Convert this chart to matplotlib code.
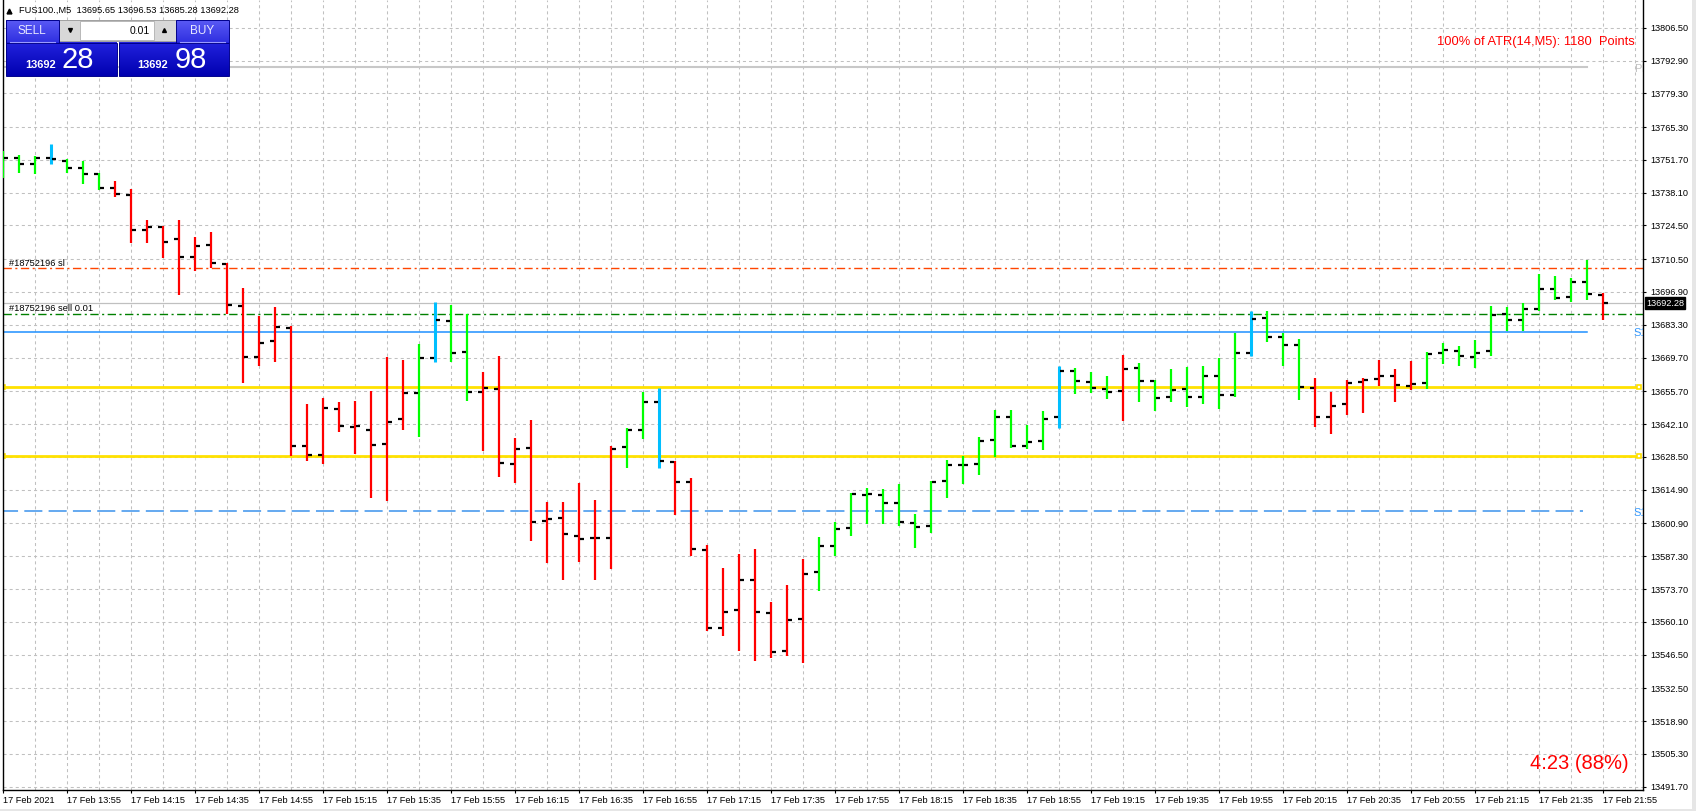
import numpy as np
import matplotlib
matplotlib.use("Agg")
import matplotlib.pyplot as plt
from matplotlib.patches import Rectangle
from matplotlib.transforms import blended_transform_factory

plt.rcParams['font.family'] = ['Liberation Sans', 'DejaVu Sans']
plt.rcParams['lines.scale_dashes'] = False

# ---------- data (FUS100., M5) ----------
opens = [13747.50, 13752.61, 13750.12, 13752.61, 13751.36, 13748.32, 13745.97, 13740.03, 13737.26, 13722.75,
         13723.99, 13719.01, 13711.55, 13716.51, 13708.51, 13691.22, 13669.93, 13676.71, 13681.96, 13633.02,
         13629.29, 13648.37, 13640.90, 13639.66, 13633.85, 13644.22, 13655.00, 13669.52, 13684.86, 13672.01,
         13655.42, 13656.66, 13625.55, 13632.19, 13601.91, 13603.16, 13595.69, 13594.86, 13594.86, 13632.60,
         13639.65, 13651.27, 13626.38, 13618.09, 13589.88, 13557.53, 13565.00, 13577.44, 13563.75, 13547.99,
         13561.27, 13580.76, 13591.55, 13599.01, 13612.70, 13612.70, 13609.38, 13601.08, 13599.84, 13618.50,
         13625.14, 13625.56, 13635.51, 13645.05, 13633.02, 13635.09, 13645.05, 13664.13, 13659.56, 13656.66,
         13655.83, 13665.37, 13659.98, 13653.34, 13656.66, 13653.34, 13662.05, 13654.17, 13671.59, 13686.11,
         13678.23, 13674.91, 13657.08, 13645.05, 13650.44, 13659.56, 13660.81, 13662.05, 13658.04, 13659.29,
         13671.73, 13672.56, 13670.07, 13672.56, 13687.91, 13685.42, 13689.98, 13698.28, 13694.96, 13701.18,
         13695.65]
highs = [13755.37, 13753.71, 13753.30, 13758.28, 13752.19, 13751.22, 13746.39, 13742.93, 13739.61, 13726.62,
         13724.27, 13726.89, 13719.70, 13721.78, 13708.92, 13698.41, 13686.94, 13690.67, 13682.65, 13650.44,
         13652.93, 13651.27, 13651.68, 13655.83, 13669.93, 13668.69, 13675.32, 13692.60, 13691.50, 13687.77,
         13663.71, 13670.35, 13636.34, 13643.80, 13609.79, 13609.79, 13617.67, 13610.62, 13633.02, 13640.48,
         13655.41, 13657.07, 13626.79, 13619.75, 13591.96, 13582.42, 13588.22, 13590.30, 13568.32, 13575.37,
         13586.15, 13595.28, 13601.50, 13613.53, 13615.60, 13615.19, 13617.26, 13604.82, 13618.50, 13627.22,
         13628.87, 13636.75, 13647.95, 13647.95, 13641.73, 13647.54, 13666.20, 13665.37, 13663.71, 13662.05,
         13670.76, 13667.44, 13660.39, 13664.96, 13665.79, 13666.20, 13669.52, 13679.89, 13689.01, 13689.01,
         13679.89, 13677.40, 13661.22, 13655.42, 13660.39, 13661.22, 13668.69, 13664.96, 13668.41, 13672.15,
         13675.88, 13674.63, 13677.12, 13691.23, 13690.81, 13692.47, 13704.50, 13703.67, 13702.84, 13710.30,
         13696.53]
lows = [13744.04, 13746.39, 13745.83, 13750.12, 13746.39, 13741.82, 13739.20, 13736.43, 13717.22, 13717.22,
        13711.13, 13695.65, 13705.74, 13706.72, 13687.77, 13659.29, 13666.34, 13668.00, 13628.87, 13626.94,
        13625.70, 13638.97, 13629.84, 13611.59, 13610.35, 13639.66, 13636.89, 13668.00, 13668.00, 13651.68,
        13630.95, 13620.16, 13617.67, 13593.62, 13584.49, 13577.44, 13584.91, 13577.44, 13582.00, 13624.03,
        13635.92, 13624.03, 13604.40, 13587.39, 13556.29, 13554.21, 13547.99, 13543.85, 13545.09, 13545.92,
        13543.02, 13572.88, 13587.40, 13595.69, 13600.67, 13600.67, 13599.84, 13590.72, 13596.94, 13611.45,
        13617.26, 13620.99, 13628.46, 13632.19, 13631.78, 13631.36, 13640.48, 13654.59, 13655.00, 13652.51,
        13643.39, 13651.27, 13647.54, 13651.27, 13649.20, 13650.44, 13648.37, 13653.34, 13670.35, 13676.16,
        13666.20, 13652.10, 13640.90, 13638.00, 13645.88, 13646.71, 13657.91, 13651.27, 13656.39, 13656.80,
        13667.17, 13666.34, 13665.51, 13670.49, 13680.86, 13680.86, 13689.15, 13693.71, 13692.88, 13693.71,
        13685.28]
closes = [13752.61, 13749.84, 13752.61, 13752.19, 13748.32, 13745.97, 13740.03, 13737.68, 13722.75, 13723.99,
          13717.77, 13711.55, 13716.11, 13709.04, 13691.50, 13669.93, 13675.74, 13682.38, 13633.02, 13629.29,
          13648.78, 13641.32, 13641.32, 13633.44, 13642.97, 13655.00, 13669.52, 13685.28, 13671.59, 13655.42,
          13657.07, 13625.97, 13631.77, 13601.50, 13602.74, 13596.52, 13594.45, 13594.86, 13631.77, 13639.65,
          13651.27, 13626.79, 13618.09, 13590.30, 13557.53, 13564.17, 13577.44, 13564.17, 13547.58, 13560.85,
          13579.93, 13591.55, 13598.60, 13613.11, 13613.11, 13609.38, 13601.50, 13599.43, 13618.09, 13625.14,
          13625.14, 13635.10, 13645.05, 13633.02, 13634.68, 13644.22, 13664.13, 13659.98, 13657.07, 13655.42,
          13664.96, 13659.98, 13652.93, 13656.25, 13653.34, 13662.05, 13654.17, 13671.59, 13685.69, 13678.23,
          13674.91, 13657.49, 13645.05, 13649.61, 13659.15, 13660.39, 13662.05, 13658.32, 13658.87, 13671.31,
          13672.98, 13670.49, 13671.73, 13687.49, 13685.42, 13689.98, 13698.28, 13694.54, 13701.18, 13696.20,
          13692.28]
# indicator state per bar: g = up, r = down, b = signal
states = ("gggbggg" + "rrrrrrrrrrrrrrrrrrr" + "gbgg" + "rrrrrrrrr" + "ggb" + "rrrrrrrrr"
          + "ggggggggggggggg" + "bggg" + "r" + "ggggggg" + "bggg" + "rrrrrrr" + "ggggggggggg" + "r")

time_labels = ["17 Feb 2021", "17 Feb 13:55", "17 Feb 14:15", "17 Feb 14:35", "17 Feb 14:55",
               "17 Feb 15:15", "17 Feb 15:35", "17 Feb 15:55", "17 Feb 16:15", "17 Feb 16:35",
               "17 Feb 16:55", "17 Feb 17:15", "17 Feb 17:35", "17 Feb 17:55", "17 Feb 18:15",
               "17 Feb 18:35", "17 Feb 18:55", "17 Feb 19:15", "17 Feb 19:35", "17 Feb 19:55",
               "17 Feb 20:15", "17 Feb 20:35", "17 Feb 20:55", "17 Feb 21:15", "17 Feb 21:35",
               "17 Feb 21:55"]
price_labels = ["13491.70", "13505.30", "13518.90", "13532.50", "13546.50", "13560.10", "13573.70",
                "13587.30", "13600.90", "13614.90", "13628.50", "13642.10", "13655.70", "13669.70",
                "13683.30", "13696.90", "13710.50", "13724.50", "13738.10", "13751.70", "13765.30",
                "13779.30", "13792.90", "13806.50"]

bid = 13692.28
sl_price = 13706.90
order_price = 13687.64
pivot_pp = 13790.34
pivot_s = 13680.30
level_dash = 13606.06
yellow_levels = [13657.61, 13628.87]

# ---------- figure ----------
W, H = 1696, 811
fig = plt.figure(figsize=(W / 100, H / 100), dpi=100)
ax = fig.add_axes([2.7 / W, (H - 790) / H, (1643 - 2.7) / W, 790 / H])
n = len(opens)
x = np.arange(n)
x_right = 102.48
ax.set_xlim(-0.0375, x_right)
ax.set_ylim(13490.34, 13818.0)

grid_c = '#c0c0c0'
for v in [float(p) for p in price_labels]:
    ax.axhline(v, color=grid_c, lw=0.75, ls=(0, (2.2, 2.2)), zorder=0)
for i in range(0, 103, 2):
    ax.axvline(i, color=grid_c, lw=0.75, ls=(0, (2.2, 2.2)), zorder=0)

# horizontal objects
ax.plot([-1, 99], [pivot_pp, pivot_pp], color='#c8c8c8', lw=1.5, zorder=1)
ax.plot([-1, 99], [pivot_s, pivot_s], color='#1e90ff', lw=1.1, zorder=1)
ax.plot([-0.2, 98.7], [level_dash, level_dash], color='#3a92ec', lw=1.1,
        ls=(0, (13, 4.5)), zorder=1)
ax.axhline(bid, color='#c0c0c0', lw=0.9, zorder=1)
ax.axhline(sl_price, color='#ff4500', lw=1.0, ls=(0, (6, 2.5, 1.5, 2.5)), zorder=1)
ax.axhline(order_price, color='#008000', lw=1.0, ls=(0, (6, 2.5, 1.5, 2.5)), zorder=1)
for lv in yellow_levels:
    ax.plot([0.0, 102.2], [lv, lv], color='#ffe100', lw=2.0, zorder=1,
            marker='s', ms=3.5, mfc='white', mec='#ffe100', mew=1.2, clip_on=True)

# bars
col_map = {'g': '#00ff00', 'r': '#ff0000', 'b': '#00bfff'}
for i in range(n):
    c = col_map[states[i]]
    ax.vlines(i, lows[i], highs[i], color=c, lw=2.2 if states[i] == 'b' else 1.6, zorder=3)
ax.hlines(opens, x - 0.31, x - 0.07, color='black', lw=1.6, zorder=4)
ax.hlines(closes, x + 0.06, x + 0.31, color='black', lw=1.6, zorder=4)

# labels on chart
ax.text(0.375, 13708.9, "#18752196 sl", fontsize=6.7, va='center', ha='left', zorder=5)
ax.text(0.375, 13689.84, "#18752196 sell 0.01", fontsize=6.7, va='center', ha='left', zorder=5)
ax.text(101.9, pivot_pp - 0.8, "PP", fontsize=8, color='#c0c0c0', va='center', ha='left', clip_on=True)
ax.text(101.9, pivot_s - 0.5, "S1", fontsize=8, color='#3399ff', va='center', ha='left', clip_on=True)
ax.text(101.9, level_dash - 0.7, "S1", fontsize=8, color='#3399ff', va='center', ha='left', clip_on=True)
ax.text(101.95, 13800.6, "100% of ATR(14,M5): 1180  Points", fontsize=9.3, color='#ff0000',
        ha='right', va='center')
ax.text(101.6, 13501.5, "4:23 (88%)", fontsize=14.5, color='#ff0000', ha='right', va='center')

# axes, ticks
ax.spines['top'].set_visible(False)
for s in ['left', 'right', 'bottom']:
    ax.spines[s].set_color('black')
    ax.spines[s].set_linewidth(1.0)
ax.yaxis.tick_right()
ax.set_yticks([float(p) for p in price_labels])
ax.set_yticklabels(price_labels)
ax.set_xticks(np.arange(0, n, 4))
ax.set_xticklabels(time_labels)
ax.tick_params(axis='y', length=2.5, width=0.8, pad=2.5, labelsize=6.6)
ax.tick_params(axis='x', length=2.5, width=0.8, pad=1.5, labelsize=6.6)
plt.setp(ax.get_xticklabels(), ha='left')

tr = blended_transform_factory(ax.transAxes, ax.transData)
ax.text(1.0018, bid, "13692.28", transform=tr, fontsize=6.6, color='white', va='center', ha='left',
        bbox=dict(facecolor='black', edgecolor='black', pad=1.0), clip_on=False, zorder=6)

# ---------- overlay: one-click trading panel and header ----------
ov = fig.add_axes([0, 0, 1, 1], zorder=10)
ov.set_xlim(0, W)
ov.set_ylim(H, 0)
ov.axis('off')
ov.patch.set_alpha(0)

ov.plot(9.3, 10.7, marker='^', ms=3.5, color='black')
ov.text(18.7, 10.7, "FUS100.,M5  13695.65 13696.53 13685.28 13692.28", fontsize=6.7,
        va='center', ha='left')


def grad_box(x0, y0, x1, y1, top, bottom):
    c0 = np.array(matplotlib.colors.to_rgb(top))
    c1 = np.array(matplotlib.colors.to_rgb(bottom))
    t = np.linspace(0, 1, 40)[:, None]
    img = (c0 * (1 - t) + c1 * t)[:, None, :]
    ov.imshow(img, extent=[x0, x1, y1, y0], aspect='auto', interpolation='bilinear', zorder=1)
    ov.add_patch(Rectangle((x0, y0), x1 - x0, y1 - y0, fill=False, edgecolor='#00008b', lw=0.7, zorder=2))


grad_box(6, 20, 58.5, 43, '#5a5af5', '#2e2ee0')
grad_box(176, 20, 229, 43, '#5a5af5', '#2e2ee0')
grad_box(6, 42.7, 117, 76, '#2222dd', '#0000b0')
grad_box(119, 42.7, 229, 76, '#2222dd', '#0000b0')
ov.plot([10, 55], [41.5, 41.5], color='#9a9aff', lw=0.8, zorder=3)
ov.plot([180, 225], [41.5, 41.5], color='#9a9aff', lw=0.8, zorder=3)
ov.text(32, 31, "SELL", color='#e8e8ff', fontsize=8.5, ha='center', va='center', zorder=4)
ov.text(202, 31, "BUY", color='#e8e8ff', fontsize=8.5, ha='center', va='center', zorder=4)

# lot size box
ov.add_patch(Rectangle((58.5, 20), 117, 21, facecolor='#d8d8d8', edgecolor='#a0a0a0', lw=0.7, zorder=1))
ov.add_patch(Rectangle((80, 21), 74, 19, facecolor='white', edgecolor='#b0b0b0', lw=0.6, zorder=2))
ov.plot(70, 30, marker='v', ms=2.8, color='black', zorder=3)
ov.plot(164, 30, marker='^', ms=2.8, color='black', zorder=3)
ov.text(150, 30.5, "0.01", fontsize=7.5, ha='right', va='center', zorder=4)

ov.text(41, 65, "13692", color='white', fontsize=8, fontweight='bold', ha='center', va='center', zorder=4)
ov.text(78, 59.5, "28", color='white', fontsize=21, ha='center', va='center', zorder=4)
ov.text(153, 65, "13692", color='white', fontsize=8, fontweight='bold', ha='center', va='center', zorder=4)
ov.text(190.5, 59.5, "98", color='white', fontsize=21, ha='center', va='center', zorder=4)

# window edges
ov.add_patch(Rectangle((1692, 0), 4, H, facecolor='#e6e6e6', edgecolor='none'))
ov.add_patch(Rectangle((0, 809), W, 2, facecolor='#e6e6e6', edgecolor='none'))

fig.savefig("out.png", dpi=100)
